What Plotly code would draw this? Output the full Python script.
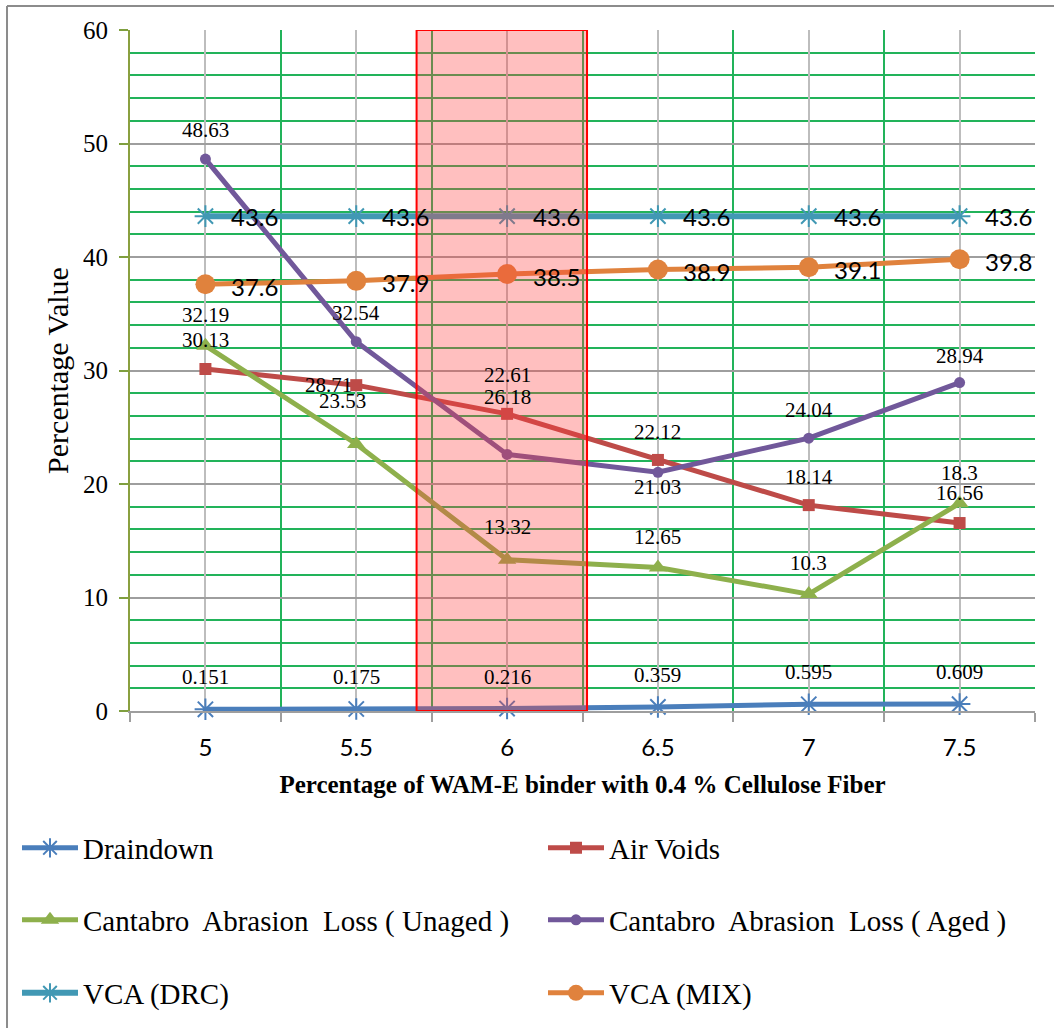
import plotly.graph_objects as go

# Binder content categories (% WAM-E binder)
categories = ["5", "5.5", "6", "6.5", "7", "7.5"]

draindown = [0.151, 0.175, 0.216, 0.359, 0.595, 0.609]
air_voids = [30.13, 28.71, 26.18, 22.12, 18.14, 16.56]
cantabro_unaged = [32.19, 23.53, 13.32, 12.65, 10.3, 18.3]
cantabro_aged = [48.63, 32.54, 22.61, 21.03, 24.04, 28.94]
vca_drc = [43.6, 43.6, 43.6, 43.6, 43.6, 43.6]
vca_mix = [37.6, 37.9, 38.5, 38.9, 39.1, 39.8]

SERIF = "Liberation Serif"
SANS = "Lato"

x_idx = list(range(len(categories)))

fig = go.Figure()

series = [
    # name, values, color, symbol, size, line width
    ("Draindown", draindown, "#4A7EBB", "asterisk-open", 18, 5),
    ("Air Voids", air_voids, "#BE4B48", "square", 12, 5),
    ("Cantabro\u00a0 Abrasion\u00a0 Loss ( Unaged )", cantabro_unaged, "#8EB04C", "triangle-up", 16, 5),
    ("Cantabro\u00a0 Abrasion\u00a0 Loss ( Aged )", cantabro_aged, "#71589A", "circle", 11, 5),
    ("VCA (DRC)", vca_drc, "#4198B4", "asterisk-open", 18, 6),
    ("VCA (MIX)", vca_mix, "#E0823D", "circle", 20, 5),
]

# one legend box per series, laid out as a 2-column grid under the chart
legend_cols = [17, 543]          # px from left
legend_rows = [848, 920, 993]    # px from top (item centres)
legend_layout = {}

for k, (name, vals, color, symbol, size, lw) in enumerate(series):
    marker = dict(symbol=symbol, size=size, color=color)
    if symbol.startswith("asterisk"):
        marker["line"] = dict(color=color, width=2)
    leg_id = "legend" if k == 0 else "legend%d" % (k + 1)
    fig.add_trace(go.Scatter(
        x=x_idx, y=vals, name=name, mode="lines+markers",
        line=dict(color=color, width=lw), marker=marker,
        legend=leg_id, showlegend=True, cliponaxis=False,
    ))
    legend_layout[leg_id] = dict(
        orientation="h", xref="container", yref="container",
        x=legend_cols[k % 2] / 1054, y=1 - legend_rows[k // 2] / 1028,
        xanchor="left", yanchor="middle", itemwidth=56,
        font=dict(family=SERIF, size=29, color="black"),
        bgcolor="rgba(0,0,0,0)",
    )

# Label offsets in pixels (dx, dy) for each series
offsets = {
    "draindown": [(0, 32)] * 6,
    "air": [(0, 29), (-28, 0), (0, 17), (0, 28), (0, 28), (0, 30)],
    "unaged": [(0, 31), (-14, 43), (0, 33), (0, 30), (0, 31), (0, 30)],
    "aged": [(0, 29), (0, 29), (0, 79), (0, -15), (0, 28), (0, 27)],
}

def fmt(v):
    return ("%g" % v)

annotations = []
for key, vals in [("draindown", draindown), ("air", air_voids),
                  ("unaged", cantabro_unaged), ("aged", cantabro_aged)]:
    for i, v in enumerate(vals):
        dx, dy = offsets[key][i]
        annotations.append(dict(
            x=i, y=v, xref="x", yref="y", text=fmt(v), showarrow=False,
            xshift=dx, yshift=dy, font=dict(family=SERIF, size=21, color="black"),
        ))

for vals, dy in [(vca_drc, 0), (vca_mix, -2)]:
    for i, v in enumerate(vals):
        annotations.append(dict(
            x=i, y=v, xref="x", yref="y", text=fmt(v), showarrow=False,
            xshift=49, yshift=dy, font=dict(family=SANS, size=24, color="black"),
        ))

# Highlighted optimum binder range
shapes = [
    dict(type="rect", xref="x", yref="y", x0=1.4, x1=2.53, y0=0, y1=60,
         fillcolor="rgba(255,60,60,0.33)", line=dict(color="#FF0000", width=2),
         layer="above"),
    # chart frame (left and top edges)
    dict(type="line", xref="paper", yref="paper", x0=-0.1359, x1=-0.1359,
         y0=-0.5, y1=1.0352, line=dict(color="#8C8C8C", width=2)),
    dict(type="line", xref="paper", yref="paper", x0=-0.1359, x1=1.1,
         y0=1.0352, y1=1.0352, line=dict(color="#8C8C8C", width=2)),
]

fig.update_layout(
    width=1054, height=1028,
    margin=dict(l=130, r=19, t=30, b=317, autoexpand=False),
    paper_bgcolor="white", plot_bgcolor="white",
    showlegend=True,
    shapes=shapes, annotations=annotations,
    xaxis=dict(
        range=[-0.5, 5.5], tickvals=x_idx, ticktext=categories,
        showgrid=True, gridcolor="#BDBDBD", gridwidth=2,
        ticks="", ticklen=0,
        tickfont=dict(family=SANS, size=24, color="black"),
        ticklabelstandoff=14,
        minor=dict(tick0=0.5, dtick=1, showgrid=True, gridcolor="#22B35A",
                   gridwidth=2, ticks="outside", ticklen=9, tickcolor="#9E9E9E",
                   tickwidth=2),
        showline=True, linecolor="#9E9E9E", linewidth=2,
        zeroline=False,
        title=dict(text="<b>Percentage of WAM-E binder with 0.4 % Cellulose Fiber</b>",
                   font=dict(family=SERIF, size=25, color="black"), standoff=16),
    ),
    yaxis=dict(
        range=[0, 60], tickvals=[0, 10, 20, 30, 40, 50, 60],
        showgrid=True, gridcolor="#9E9E9E", gridwidth=2,
        ticks="outside", ticklen=9, tickcolor="#7F9F3F", tickwidth=2,
        tickfont=dict(family=SERIF, size=25, color="black"),
        ticklabelstandoff=6,
        minor=dict(dtick=2, showgrid=True, gridcolor="#22B35A", gridwidth=2),
        showline=True, linecolor="#8AA040", linewidth=2,
        zeroline=False,
        title=dict(text="Percentage Value",
                   font=dict(family=SERIF, size=30, color="black"), standoff=6),
    ),
    **legend_layout,
)

fig.write_html("out.html")
